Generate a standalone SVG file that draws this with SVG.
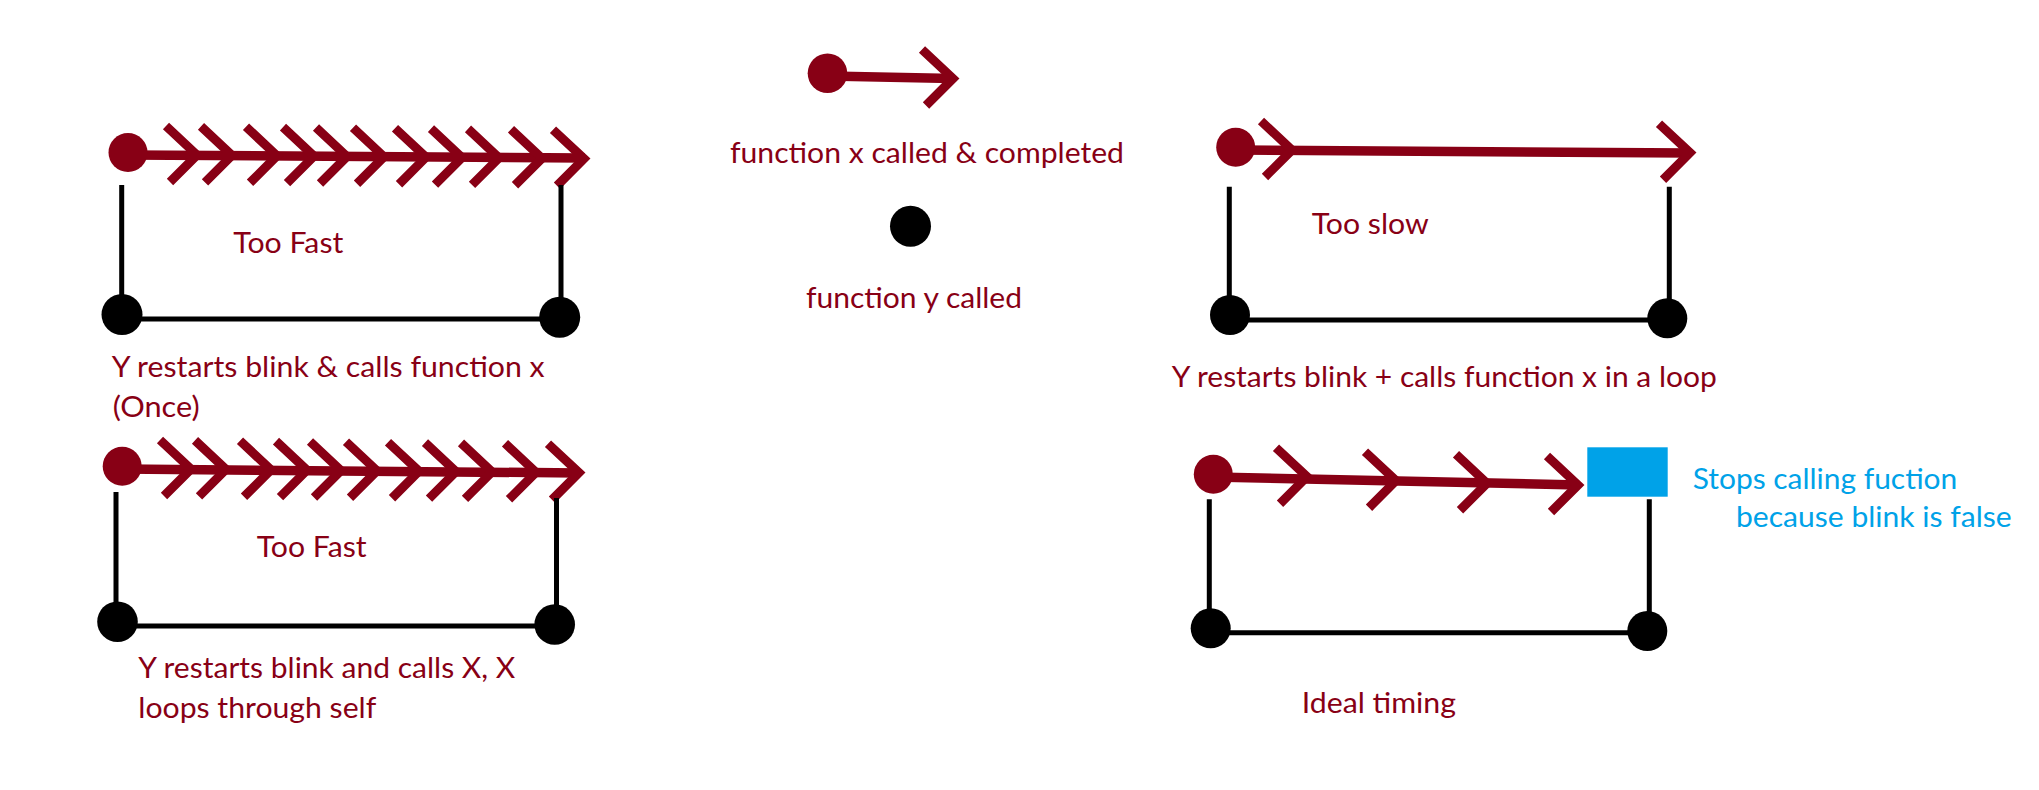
<svg xmlns="http://www.w3.org/2000/svg" xmlns:xlink="http://www.w3.org/1999/xlink" width="2039" height="790" viewBox="0 0 2039 790">
<style>
.red{fill:#880015}
.blk{fill:#000}
.arrow{stroke:#880015;stroke-width:9.5;fill:none}
.chev{stroke:#880015;stroke-width:9;fill:none;stroke-linejoin:miter;stroke-miterlimit:10}
.wire{stroke:#000;stroke-width:5;fill:none}
text{font-family:Lato,"Liberation Sans",sans-serif;font-size:28px;fill:#880015}
text.blue{fill:#00A2E8}
</style>
<defs>
<path id="chev" class="chev" d="M-31,-29 L0,0 L-27,27"/>
</defs>
<rect width="2039" height="790" fill="#fff"/>

<g id="connectors">
  <!-- panel 1 top-left -->
  <path class="arrow" d="M128,155 L585,158"/>
  <use href="#chev" x="197" y="155"/><use href="#chev" x="232" y="155.4"/><use href="#chev" x="277" y="155.8"/>
  <use href="#chev" x="314" y="156.1"/><use href="#chev" x="347" y="156.5"/><use href="#chev" x="384" y="156.8"/>
  <use href="#chev" x="426" y="157.2"/><use href="#chev" x="462" y="157.6"/><use href="#chev" x="499" y="157.9"/>
  <use href="#chev" x="542" y="158.3"/><use href="#chev" x="584" y="158.7"/>
  <path class="wire" d="M121.7,185 L121.7,315 M122,319 L559,319 M561,185 L561,317"/>

  <!-- panel 2 bottom-left -->
  <path class="arrow" d="M122,469 L580,473"/>
  <use href="#chev" x="191" y="469"/><use href="#chev" x="226" y="469.4"/><use href="#chev" x="271" y="469.8"/>
  <use href="#chev" x="307" y="470.1"/><use href="#chev" x="341" y="470.5"/><use href="#chev" x="377" y="470.8"/>
  <use href="#chev" x="419" y="471.2"/><use href="#chev" x="456" y="471.6"/><use href="#chev" x="492" y="471.9"/>
  <use href="#chev" x="536" y="472.3"/><use href="#chev" x="579" y="472.7"/>
  <path class="wire" d="M116,492 L116,621 M117,626 L554,626 M556.5,498 L556.5,624"/>

  <!-- legend -->
  <path class="arrow" d="M828,76 L953,78.5"/>
  <use href="#chev" x="953" y="78.5"/>

  <!-- panel 3 top-right -->
  <path class="arrow" d="M1236,150 L1690,153"/>
  <use href="#chev" x="1292" y="150"/><use href="#chev" x="1690" y="152.7"/>
  <path class="wire" d="M1229.3,186.7 L1229.3,315 M1230,320 L1667,320 M1669.3,186.7 L1669.3,318"/>

  <!-- panel 4 bottom-right -->
  <path class="arrow" d="M1213,477 L1579,485"/>
  <use href="#chev" x="1307" y="476.7"/><use href="#chev" x="1396" y="480.7"/>
  <use href="#chev" x="1487" y="483.3"/><use href="#chev" x="1578" y="485"/>
  <path class="wire" d="M1209.3,499.3 L1209.3,628 M1211,632.7 L1647,632.7 M1649.3,499.3 L1649.3,631"/>
</g>

<g id="node-p1-start"><circle class="red" cx="128" cy="152.5" r="19.5"/></g>
<g id="node-p1-bl"><circle class="blk" cx="122" cy="314.5" r="20.5"/></g>
<g id="node-p1-br"><circle class="blk" cx="559.7" cy="317.3" r="20.5"/></g>

<g id="node-p2-start"><circle class="red" cx="122.2" cy="466.3" r="19.5"/></g>
<g id="node-p2-bl"><circle class="blk" cx="117.5" cy="621.7" r="20.3"/></g>
<g id="node-p2-br"><circle class="blk" cx="554.7" cy="624.5" r="20.3"/></g>

<g id="node-legend-x"><circle class="red" cx="827.5" cy="73.3" r="19.8"/></g>
<g id="node-legend-y"><circle class="blk" cx="910.5" cy="226.2" r="20.5"/></g>

<g id="node-p3-start"><circle class="red" cx="1235.7" cy="147.3" r="19.5"/></g>
<g id="node-p3-bl"><circle class="blk" cx="1230" cy="315" r="20"/></g>
<g id="node-p3-br"><circle class="blk" cx="1667.3" cy="318.3" r="20"/></g>

<g id="node-p4-start"><circle class="red" cx="1213.3" cy="474.3" r="19.5"/></g>
<g id="node-p4-stop"><rect x="1587.3" y="447.3" width="80.4" height="49.4" fill="#00A2E8"/></g>
<g id="node-p4-bl"><circle class="blk" cx="1210.7" cy="628.3" r="20"/></g>
<g id="node-p4-br"><circle class="blk" cx="1647.3" cy="631" r="20"/></g>

<g id="labels">
  <text x="233.3" y="252.7" textLength="110" lengthAdjust="spacingAndGlyphs">Too Fast</text>
  <text x="111.7" y="376.7" textLength="433" lengthAdjust="spacingAndGlyphs">Y restarts blink &amp; calls function x</text>
  <text x="112.7" y="417" textLength="87" lengthAdjust="spacingAndGlyphs">(Once)</text>
  <text x="256.7" y="556.7" textLength="110" lengthAdjust="spacingAndGlyphs">Too Fast</text>
  <text x="138.3" y="678" textLength="377" lengthAdjust="spacingAndGlyphs">Y restarts blink and calls X, X</text>
  <text x="138.3" y="717.7" textLength="238" lengthAdjust="spacingAndGlyphs">loops through self</text>
  <text x="730" y="163.3" textLength="394" lengthAdjust="spacingAndGlyphs">function x called &amp; completed</text>
  <text x="806" y="308.3" textLength="216" lengthAdjust="spacingAndGlyphs">function y called</text>
  <text x="1311.7" y="234" textLength="117" lengthAdjust="spacingAndGlyphs">Too slow</text>
  <text x="1171.8" y="387.3" textLength="545" lengthAdjust="spacingAndGlyphs">Y restarts blink + calls function x in a loop</text>
  <text class="blue" x="1692.7" y="489.3" textLength="264.6" lengthAdjust="spacingAndGlyphs">Stops calling fuction</text>
  <text class="blue" x="1736" y="527.3" textLength="275.7" lengthAdjust="spacingAndGlyphs">because blink is false</text>
  <text x="1301.7" y="713.3" textLength="154.3" lengthAdjust="spacingAndGlyphs">Ideal timing</text>
</g>
</svg>
